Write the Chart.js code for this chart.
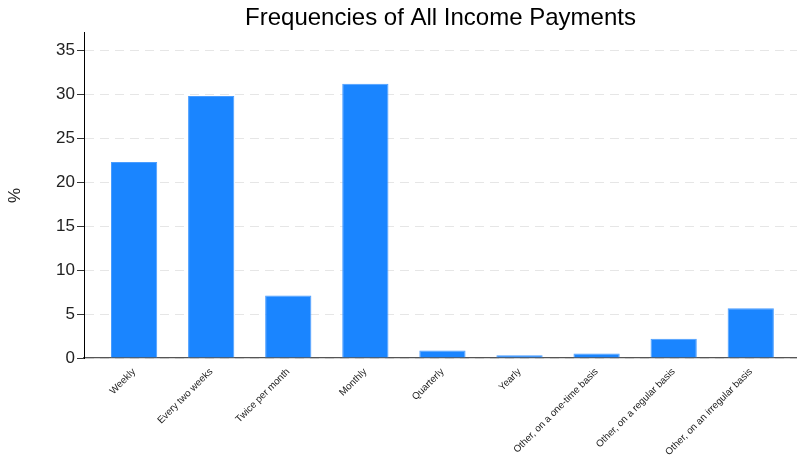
<!DOCTYPE html>
<html>
<head>
<meta charset="utf-8">
<script src="https://cdn.jsdelivr.net/npm/chart.js@4/dist/chart.umd.min.js"></script>
<style>
  html, body { margin: 0; padding: 0; background: #fff; }
  #wrap { width: 797px; height: 455px; }
</style>
</head>
<body>
<div id="wrap"><canvas id="c" width="797" height="455"></canvas></div>
<script>
const categories = ["Weekly", "Every two weeks", "Twice per month", "Monthly", "Quarterly", "Yearly", "Other, on a one-time basis", "Other, on a regular basis", "Other, on an irregular basis"];
const percentages = [22.3, 29.8, 7.1, 31.2, 0.85, 0.3, 0.5, 2.2, 5.65];
const yTicks = [0, 5, 10, 15, 20, 25, 30, 35];

const FONT = "'Liberation Sans', Arial, sans-serif";

new Chart(document.getElementById('c'), {
  type: 'bar',
  data: {
    datasets: [{
      data: percentages.map((v, i) => ({ x: i, y: v })),
      backgroundColor: '#1a85ff',
      borderColor: '#4a9dff',
      borderWidth: 1,
      categoryPercentage: 1,
      barPercentage: 0.6
    }]
  },
  options: {
    responsive: false,
    animation: false,
    layout: { padding: 0 },
    plugins: {
      legend: { display: false },
      tooltip: { enabled: false },
      title: {
        display: true,
        text: 'Frequencies of All Income Payments',
        fullSize: false,
        color: '#000',
        font: { family: FONT, size: 24, weight: 'normal', lineHeight: 1.2 },
        padding: { top: 4, bottom: 0 }
      }
    },
    scales: {
      x: {
        type: 'linear',
        offset: false,
        min: -0.65,
        max: 8.6,
        grid: { display: false },
        border: { display: true, color: '#555', width: 1.2 },
        afterBuildTicks: (s) => { s.ticks = categories.map((_, i) => ({ value: i })); },
        ticks: {
          autoSkip: false,
          minRotation: 45,
          maxRotation: 45,
          padding: 0,
          color: '#222',
          font: { family: FONT, size: 9.8 },
          callback: (v) => categories[v]
        },
        afterFit: (s) => { s.height = 97; s.paddingLeft = 0; s.paddingRight = 0; }
      },
      y: {
        min: 0,
        max: 37,
        afterBuildTicks: (s) => { s.ticks = yTicks.map(v => ({ value: v })); },
        grid: {
          color: '#e6e6e6',
          lineWidth: 1,
          tickColor: '#333',
          tickLength: 7,
          drawTicks: true
        },
        border: { display: true, color: '#000', width: 1, dash: [9, 6] },
        ticks: {
          padding: 2,
          color: '#222',
          font: { family: FONT, size: 17 }
        },
        title: {
          display: true,
          text: '%',
          color: '#222',
          font: { family: FONT, size: 17 },
          padding: { top: 5, bottom: 0 }
        },
        afterFit: (s) => { s.width = 84; s.paddingTop = 0; s.paddingBottom = 0; }
      }
    }
  }
});
</script>
</body>
</html>
